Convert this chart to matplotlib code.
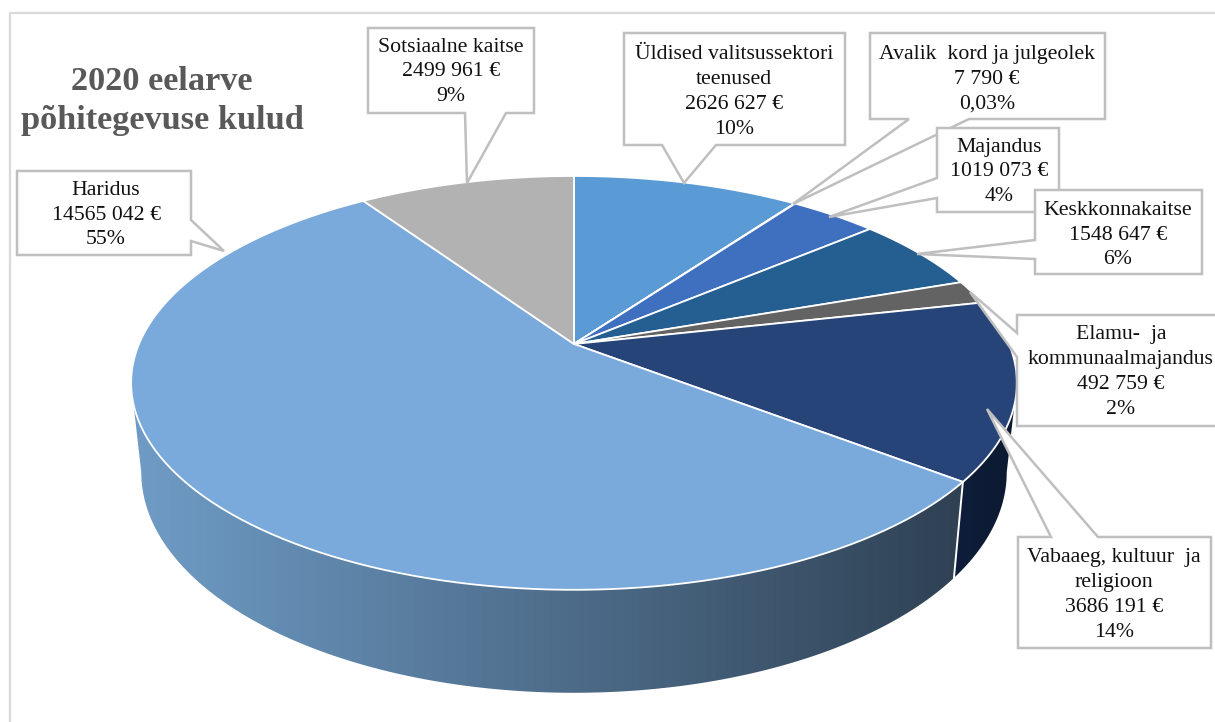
import numpy as np
import matplotlib
matplotlib.use('Agg')
import matplotlib.pyplot as plt
from matplotlib.colors import LinearSegmentedColormap
from matplotlib.patches import Polygon

plt.rcParams['font.family'] = ['Liberation Serif', 'DejaVu Serif']

# data, clockwise from 12 o'clock
names = ['Üldised valitsussektori\nteenused', 'Avalik  kord ja julgeolek', 'Majandus', 'Keskkonnakaitse',
         'Elamu-  ja\nkommunaalmajandus', 'Vabaaeg, kultuur  ja\nreligioon', 'Haridus', 'Sotsiaalne kaitse']
values = [2626627, 7790, 1019073, 1548647, 492759, 3686191, 14565042, 2499961]
percents = ['10%', '0,03%', '4%', '6%', '2%', '14%', '55%', '9%']
top_colors = ['#5b9bd5', '#5b9bd5', '#3f6fbf', '#255e91', '#636363', '#264478', '#7aaadc', '#b2b2b2']
side_colors = {5: ('#0e1d3a', '#0c1a30'), 6: ('#6f9cc6', '#2f4153')}

# pie geometry in pixels
CX, CY = 574, 344
PX, PY, K = 435, 199.6, 0.188
SX, SY, DROP = 0.977, 1.065, 87
# the wall is visible between the two points where the rim is widest
FRONT_START = np.degrees(np.arccos(-K))
FRONT_END = 360 - FRONT_START


def rim(theta):
    # circle -> screen with a bit of perspective, back of the pie is smaller
    t = np.radians(theta)
    x, y = np.sin(t), np.cos(t)
    d = 1 + K * y
    return CX + PX * x / d, CY - PY * y / d


def rim_low(theta):
    x, y = rim(theta)
    return CX + (x - CX) * SX, CY + DROP + (y - CY) * SY


# callout outlines: box and tail, in drawing order
callouts = [
    [(368, 28), (534, 28), (534, 113), (506, 113), (467, 183), (465, 113), (368, 113)],
    [(17, 171), (191, 171), (191, 220), (224, 251), (191, 241), (191, 255), (17, 255)],
    [(624, 33), (845, 33), (845, 145), (716, 145), (684, 183), (662, 145), (624, 145)],
    [(870, 33), (1105, 33), (1105, 119), (969, 119), (793, 204), (909, 119), (870, 119)],
    [(937, 128), (1059, 128), (1059, 212), (937, 212), (937, 198), (829, 217), (937, 178)],
    [(1035, 190), (1202, 190), (1202, 274), (1035, 274), (1035, 259), (917, 254), (1035, 240)],
    [(1017, 315), (1225, 315), (1225, 426), (1017, 426), (1017, 357), (970, 292), (1017, 333)],
    [(1018, 537), (1051, 537), (987, 409), (1098, 537), (1211, 537), (1211, 648), (1018, 648)],
]
# text centres, same order as the callouts
label_order = [7, 6, 0, 1, 2, 3, 4, 5]
label_pos = [(451, 72), (106, 215), (734, 92), (987, 79), (999, 172), (1118, 235), (1121, 372), (1114, 595)]

fig = plt.figure(figsize=(12.15, 7.22), dpi=100)
ax = fig.add_axes([0, 0, 1, 1])

# frame of the chart area, only left and top are in the crop
ax.plot([10, 10, 1215], [722, 13, 13], color='#d9d9d9', lw=1.6, zorder=1)

fractions = np.array(values) / sum(values)
edges = np.concatenate([[0], np.cumsum(fractions)]) * 360

# side wall
for i, (c0, c1) in side_colors.items():
    a, b = max(edges[i], FRONT_START), min(edges[i + 1], FRONT_END)
    ts = np.linspace(a, b, 200)
    xt, yt = rim(ts)
    xb, yb = rim_low(ts)
    pts = np.column_stack([np.concatenate([xt, xb[::-1]]), np.concatenate([yt, yb[::-1]])])
    x0, x1 = pts[:, 0].min(), pts[:, 0].max()
    cmap = LinearSegmentedColormap.from_list('side', [c0, c1])
    im = ax.imshow(np.linspace(0, 1, 256)[None, :], cmap=cmap, aspect='auto', zorder=2,
                   extent=(x0, x1, pts[:, 1].max(), pts[:, 1].min()))
    im.set_clip_path(Polygon(pts, closed=True, transform=ax.transData))
    # white seam between the two walls
    if a == edges[i] and a > FRONT_START:
        ax.plot([xt[0], xb[0]], [yt[0], yb[0]], color='white', lw=1.4, zorder=3)

# top surface
for i in range(len(values)):
    ts = np.linspace(edges[i], edges[i + 1], 120)
    xs, ys = rim(ts)
    ax.fill(np.r_[CX, xs], np.r_[CY, ys], facecolor=top_colors[i], edgecolor='white', lw=1.3,
            joinstyle='round', zorder=4)

# callouts
for pts, idx, pos in zip(callouts, label_order, label_pos):
    ax.add_patch(Polygon(pts, closed=True, facecolor='white', edgecolor='#bfbfbf', lw=1.8,
                         joinstyle='miter', zorder=5))
    v = values[idx]
    amount = f'{v // 1000} {v % 1000:03d} €'
    ax.text(pos[0], pos[1], f'{names[idx]}\n{amount}\n{percents[idx]}', ha='center', va='center',
            ma='center', fontsize=15.7, linespacing=1.42, color='#111111', zorder=6)

ax.text(162, 101, '2020 eelarve\npõhitegevuse kulud', ha='center', va='center', ma='center',
        fontsize=24.7, fontweight='bold', color='#595959', linespacing=1.33, zorder=6)

ax.set_xlim(0, 1215)
ax.set_ylim(722, 0)
ax.axis('off')
fig.savefig('out.png', dpi=100)
